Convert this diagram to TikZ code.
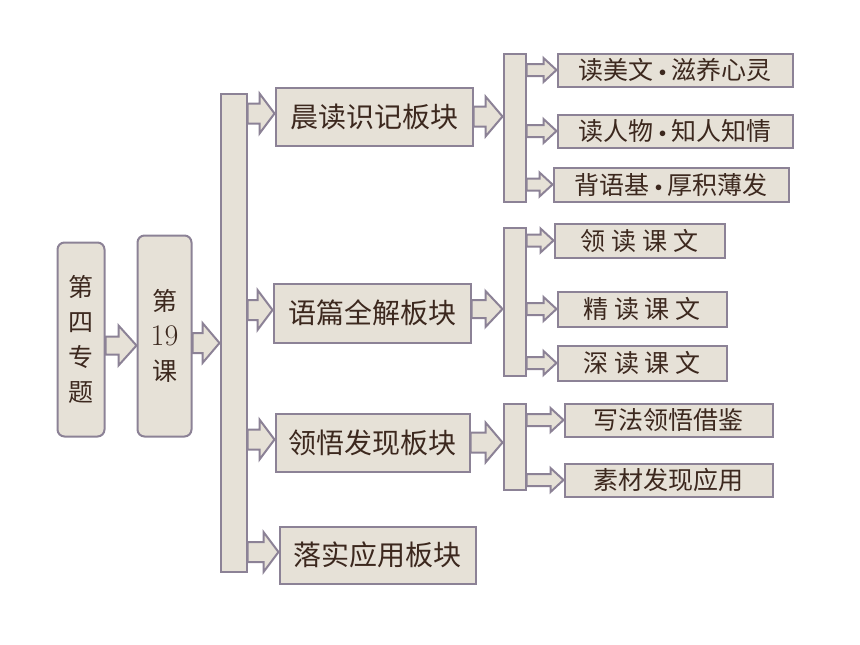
\documentclass[tikz,border=0pt]{standalone}
\usepackage{fontspec}
\newfontfamily\cjk{Noto Sans CJK SC}
\usepackage{tikz}
\usetikzlibrary{calc}

\definecolor{boxfill}{HTML}{E6E1D7}
\definecolor{boxline}{HTML}{8C8296}
\definecolor{boxtext}{HTML}{3C281E}

\tikzset{
  bar/.style={draw=boxline, fill=boxfill, line width=2pt, inner sep=0pt},
  block/.style={bar, text=boxtext, font=\cjk\fontsize{28}{30}\selectfont},
  item/.style={block, font=\cjk\fontsize{25}{27}\selectfont},
  tall/.style={block, rounded corners=7pt, align=center, font=\cjk\fontsize{25}{35}\selectfont},
}

% narrow dot between the words
\newcommand\dotsep{{\rmfamily\textbullet}}

% fat outlined arrow: from, to, shaft half height, head half height, head length
\newcommand\fatarrow[5]{%
  \draw[bar] let \p1=(#1), \p2=(#2) in
    (\x1,\y1+#3pt) -- (\x2-#5pt,\y1+#3pt) -- (\x2-#5pt,\y1+#4pt) -- (\x2,\y1)
    -- (\x2-#5pt,\y1-#4pt) -- (\x2-#5pt,\y1-#3pt) -- (\x1,\y1-#3pt) -- cycle;}

\begin{document}
\begin{tikzpicture}[x=1pt,y=-1pt]
  \useasboundingbox (0,0) rectangle (860,645);
  % first two columns
  \node[tall, minimum width=47, minimum height=194] (topic) at (81,339.5) {第\\四\\专\\题};
  \node[tall, minimum width=54, minimum height=201] (lesson) at (164.5,336) {第\\{\rmfamily\fontsize{30}{35}\selectfont 19}\\课};
  \node[bar, minimum width=26, minimum height=478] (mainbar) at (233.5,332.5) {};
  % the four blocks
  \node[block, minimum width=197, minimum height=58] (chendu) at (374,116.5) {晨读识记板块};
  \node[block, minimum width=197, minimum height=59] (yupian) at (372,313) {语篇全解板块};
  \node[block, minimum width=194, minimum height=58] (lingwu) at (372.5,442.5) {领悟发现板块};
  \node[block, minimum width=196, minimum height=57] (luoshi) at (377.5,555) {落实应用板块};
  % small bars
  \node[bar, minimum width=22, minimum height=148] (barA) at (514.5,127.5) {};
  \node[bar, minimum width=22, minimum height=148] (barB) at (514.5,301.5) {};
  \node[bar, minimum width=22, minimum height=86] (barC) at (514.5,446.5) {};
  % items
  \node[item, minimum width=235, minimum height=33] (meiwen) at (675,70) {读美文\dotsep 滋养心灵};
  \node[item, minimum width=235, minimum height=33] (renwu) at (675,131) {读人物\dotsep 知人知情};
  \node[item, minimum width=235, minimum height=34] (yuji) at (671,184.5) {背语基\dotsep 厚积薄发};
  \node[item, minimum width=170, minimum height=34] (lingdu) at (639.5,240.5) {领\hspace{0.23em}读\hspace{0.23em}课\hspace{0.23em}文};
  \node[item, minimum width=169, minimum height=35] (jingdu) at (642,309) {精\hspace{0.23em}读\hspace{0.23em}课\hspace{0.23em}文};
  \node[item, minimum width=169, minimum height=35] (shendu) at (642,363) {深\hspace{0.23em}读\hspace{0.23em}课\hspace{0.23em}文};
  \node[item, minimum width=208, minimum height=33] (xiefa) at (668.5,420) {写法领悟借鉴};
  \node[item, minimum width=208, minimum height=33] (sucai) at (668.5,480) {素材发现应用};
  % big arrows
  \fatarrow{$(topic.east)+(0,6)$}{$(lesson.west)+(0,6)$}{9}{20}{18}
  \fatarrow{$(lesson.east)+(0,7)$}{$(mainbar.west)+(0,7)$}{10}{20}{17}
  \foreach \b in {chendu,yupian,lingwu,luoshi}
    \fatarrow{$(mainbar.east |- \b.west)+(0,-3)$}{$(\b.west)+(0,-3)$}{10}{20}{15};
  \fatarrow{chendu.east}{barA.west |- chendu.east}{10}{20}{17}
  \fatarrow{$(yupian.east)+(0,-4)$}{$(barB.west |- yupian.east)+(0,-4)$}{9}{18}{17}
  \fatarrow{lingwu.east}{barC.west |- lingwu.east}{10}{20}{17}
  % small arrows
  \foreach \b/\s in {barA/meiwen,barA/renwu,barA/yuji,barB/lingdu,barB/jingdu,barB/shendu,barC/xiefa,barC/sucai}
    \fatarrow{\b.east |- \s.west}{\s.west}{6}{12}{13};
\end{tikzpicture}
\end{document}
